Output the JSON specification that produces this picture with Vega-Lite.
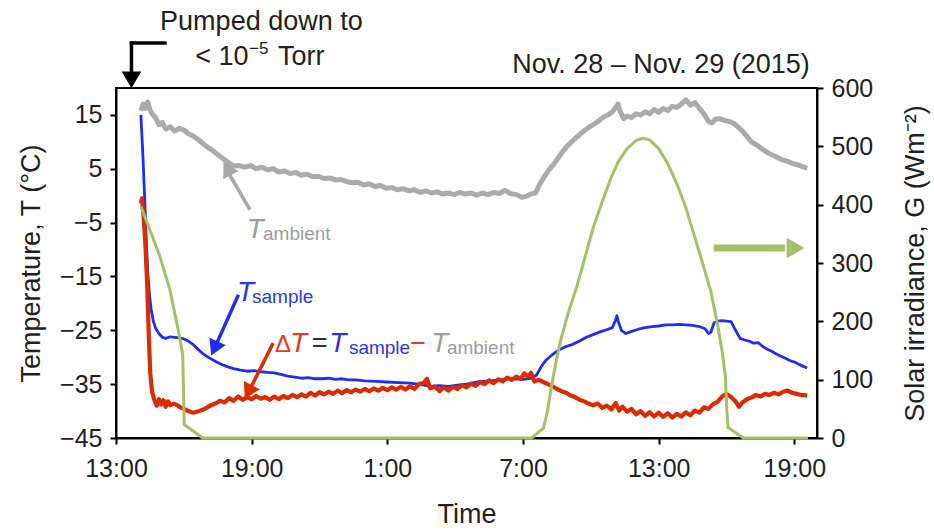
{
"$schema": "https://vega.github.io/schema/vega-lite/v6.json",
"width": 701, "height": 350,
"autosize": "none",
"padding": {"left": 116, "top": 88, "right": 117, "bottom": 93},
"background": "white",
"config": {
  "font": "Liberation Sans",
  "view": {"stroke": "black", "strokeWidth": 2},
  "axis": {"domainColor": "black", "domainWidth": 2, "tickColor": "black", "tickWidth": 2, "tickSize": 6, "labelFontSize": 25, "labelColor": "#231f20", "titleFontSize": 27, "titleFontWeight": "normal", "titleColor": "#231f20", "grid": false, "labelPadding": 8}
},
"datasets": {
  "amb": [
    {"t":"2015-11-28T14:06","v":15.8},{"t":"2015-11-28T14:12","v":17.0},{"t":"2015-11-28T14:18","v":16.2},{"t":"2015-11-28T14:24","v":17.4},{"t":"2015-11-28T14:30","v":16.0},{"t":"2015-11-28T14:36","v":15.2},{"t":"2015-11-28T14:45","v":14.5},{"t":"2015-11-28T14:54","v":13.2},{"t":"2015-11-28T15:03","v":13.6},{"t":"2015-11-28T15:12","v":12.4},{"t":"2015-11-28T15:24","v":12.8},{"t":"2015-11-28T15:36","v":12.0},{"t":"2015-11-28T15:48","v":12.5},{"t":"2015-11-28T16:00","v":12.2},{"t":"2015-11-28T16:12","v":11.5},{"t":"2015-11-28T16:27","v":11.0},{"t":"2015-11-28T16:42","v":10.2},{"t":"2015-11-28T16:57","v":9.3},{"t":"2015-11-28T17:12","v":8.6},{"t":"2015-11-28T17:27","v":7.8},{"t":"2015-11-28T17:42","v":7.0},{"t":"2015-11-28T17:57","v":6.2},{"t":"2015-11-28T18:12","v":5.5},{"t":"2015-11-28T18:27","v":5.6},{"t":"2015-11-28T18:42","v":5.3},{"t":"2015-11-28T18:57","v":5.6},{"t":"2015-11-28T19:12","v":5.0},{"t":"2015-11-28T19:27","v":5.3},{"t":"2015-11-28T19:42","v":4.8},{"t":"2015-11-28T19:57","v":5.0},{"t":"2015-11-28T20:12","v":4.4},{"t":"2015-11-28T20:27","v":4.6},{"t":"2015-11-28T20:42","v":4.1},{"t":"2015-11-28T20:57","v":4.3},{"t":"2015-11-28T21:12","v":3.8},{"t":"2015-11-28T21:27","v":4.0},{"t":"2015-11-28T21:42","v":3.5},{"t":"2015-11-28T21:57","v":3.6},{"t":"2015-11-28T22:12","v":3.2},{"t":"2015-11-28T22:27","v":3.3},{"t":"2015-11-28T22:42","v":2.9},{"t":"2015-11-28T22:57","v":3.0},{"t":"2015-11-28T23:12","v":2.6},{"t":"2015-11-28T23:27","v":2.4},{"t":"2015-11-28T23:42","v":2.5},{"t":"2015-11-28T23:57","v":2.0},
    {"t":"2015-11-29T00:12","v":2.2},{"t":"2015-11-29T00:27","v":1.7},{"t":"2015-11-29T00:42","v":1.9},{"t":"2015-11-29T00:57","v":1.4},{"t":"2015-11-29T01:12","v":1.5},{"t":"2015-11-29T01:27","v":1.1},{"t":"2015-11-29T01:42","v":1.3},{"t":"2015-11-29T01:57","v":0.9},{"t":"2015-11-29T02:12","v":1.1},{"t":"2015-11-29T02:27","v":0.6},{"t":"2015-11-29T02:42","v":0.9},{"t":"2015-11-29T02:57","v":0.5},{"t":"2015-11-29T03:12","v":0.7},{"t":"2015-11-29T03:27","v":0.3},{"t":"2015-11-29T03:42","v":0.5},{"t":"2015-11-29T03:57","v":0.2},{"t":"2015-11-29T04:12","v":0.6},{"t":"2015-11-29T04:27","v":0.3},{"t":"2015-11-29T04:42","v":0.5},{"t":"2015-11-29T04:57","v":0.1},{"t":"2015-11-29T05:12","v":0.5},{"t":"2015-11-29T05:27","v":0.2},{"t":"2015-11-29T05:42","v":0.6},{"t":"2015-11-29T05:57","v":0.4},{"t":"2015-11-29T06:12","v":1.0},{"t":"2015-11-29T06:27","v":0.4},{"t":"2015-11-29T06:42","v":0.2},{"t":"2015-11-29T06:57","v":-0.3},{"t":"2015-11-29T07:09","v":-0.1},{"t":"2015-11-29T07:21","v":0.3},{"t":"2015-11-29T07:33","v":0.5},{"t":"2015-11-29T07:45","v":2.2},{"t":"2015-11-29T07:57","v":3.6},{"t":"2015-11-29T08:09","v":4.8},{"t":"2015-11-29T08:21","v":5.8},{"t":"2015-11-29T08:33","v":7.0},{"t":"2015-11-29T08:45","v":8.2},{"t":"2015-11-29T08:57","v":9.2},{"t":"2015-11-29T09:09","v":10.0},{"t":"2015-11-29T09:21","v":10.8},{"t":"2015-11-29T09:33","v":11.5},{"t":"2015-11-29T09:45","v":12.2},{"t":"2015-11-29T09:57","v":12.8},{"t":"2015-11-29T10:09","v":13.3},{"t":"2015-11-29T10:21","v":13.9},{"t":"2015-11-29T10:33","v":14.6},{"t":"2015-11-29T10:45","v":15.0},{"t":"2015-11-29T10:57","v":15.6},{"t":"2015-11-29T11:06","v":16.4},{"t":"2015-11-29T11:12","v":17.0},{"t":"2015-11-29T11:18","v":15.6},{"t":"2015-11-29T11:27","v":14.3},{"t":"2015-11-29T11:36","v":14.8},{"t":"2015-11-29T11:48","v":14.5},{"t":"2015-11-29T12:00","v":15.2},{"t":"2015-11-29T12:12","v":15.0},{"t":"2015-11-29T12:24","v":15.6},{"t":"2015-11-29T12:36","v":15.2},{"t":"2015-11-29T12:48","v":16.0},{"t":"2015-11-29T13:00","v":15.5},{"t":"2015-11-29T13:12","v":16.2},{"t":"2015-11-29T13:24","v":15.8},{"t":"2015-11-29T13:36","v":16.6},{"t":"2015-11-29T13:48","v":16.4},{"t":"2015-11-29T14:00","v":17.0},{"t":"2015-11-29T14:12","v":17.8},{"t":"2015-11-29T14:24","v":16.8},{"t":"2015-11-29T14:36","v":17.3},{"t":"2015-11-29T14:48","v":16.2},{"t":"2015-11-29T15:00","v":15.2},{"t":"2015-11-29T15:12","v":13.8},{"t":"2015-11-29T15:21","v":13.5},{"t":"2015-11-29T15:30","v":14.2},{"t":"2015-11-29T15:42","v":14.3},{"t":"2015-11-29T15:54","v":14.0},{"t":"2015-11-29T16:06","v":13.8},{"t":"2015-11-29T16:18","v":13.5},{"t":"2015-11-29T16:30","v":12.8},{"t":"2015-11-29T16:42","v":12.0},{"t":"2015-11-29T16:54","v":11.0},{"t":"2015-11-29T17:06","v":10.0},{"t":"2015-11-29T17:18","v":9.5},{"t":"2015-11-29T17:30","v":8.9},{"t":"2015-11-29T17:42","v":8.3},{"t":"2015-11-29T17:54","v":7.8},{"t":"2015-11-29T18:06","v":7.4},{"t":"2015-11-29T18:18","v":7.0},{"t":"2015-11-29T18:30","v":6.6},{"t":"2015-11-29T18:42","v":6.4},{"t":"2015-11-29T18:54","v":6.0},{"t":"2015-11-29T19:06","v":5.8},{"t":"2015-11-29T19:18","v":5.5},{"t":"2015-11-29T19:34","v":5.1}
  ],
  "smp": [
    {"t":"2015-11-28T14:06","v":15.0},{"t":"2015-11-28T14:11","v":8.0},{"t":"2015-11-28T14:15","v":1.4},{"t":"2015-11-28T14:19","v":-6.0},{"t":"2015-11-28T14:24","v":-14.0},{"t":"2015-11-28T14:29","v":-18.5},{"t":"2015-11-28T14:33","v":-21.0},{"t":"2015-11-28T14:39","v":-23.3},{"t":"2015-11-28T14:45","v":-24.6},{"t":"2015-11-28T14:54","v":-25.6},{"t":"2015-11-28T15:03","v":-26.3},{"t":"2015-11-28T15:12","v":-26.5},{"t":"2015-11-28T15:24","v":-26.2},{"t":"2015-11-28T15:36","v":-26.3},{"t":"2015-11-28T15:48","v":-26.4},{"t":"2015-11-28T16:00","v":-26.6},{"t":"2015-11-28T16:12","v":-27.0},{"t":"2015-11-28T16:24","v":-27.6},{"t":"2015-11-28T16:36","v":-28.4},{"t":"2015-11-28T16:48","v":-29.2},{"t":"2015-11-28T17:00","v":-29.8},{"t":"2015-11-28T17:12","v":-30.3},{"t":"2015-11-28T17:27","v":-30.9},{"t":"2015-11-28T17:42","v":-31.4},{"t":"2015-11-28T17:57","v":-31.8},{"t":"2015-11-28T18:12","v":-32.1},{"t":"2015-11-28T18:30","v":-32.4},{"t":"2015-11-28T18:48","v":-32.6},{"t":"2015-11-28T19:06","v":-32.5},{"t":"2015-11-28T19:24","v":-32.7},{"t":"2015-11-28T19:42","v":-32.8},{"t":"2015-11-28T20:00","v":-32.9},{"t":"2015-11-28T20:18","v":-33.2},{"t":"2015-11-28T20:36","v":-33.5},{"t":"2015-11-28T20:54","v":-33.7},{"t":"2015-11-28T21:12","v":-33.9},{"t":"2015-11-28T21:30","v":-33.8},{"t":"2015-11-28T21:48","v":-34.0},{"t":"2015-11-28T22:06","v":-34.0},{"t":"2015-11-28T22:24","v":-33.9},{"t":"2015-11-28T22:42","v":-34.1},{"t":"2015-11-28T23:00","v":-34.0},{"t":"2015-11-28T23:18","v":-34.2},{"t":"2015-11-28T23:36","v":-34.2},
    {"t":"2015-11-29T00:00","v":-34.4},{"t":"2015-11-29T00:30","v":-34.5},{"t":"2015-11-29T01:00","v":-34.6},{"t":"2015-11-29T01:30","v":-34.7},{"t":"2015-11-29T02:00","v":-34.8},{"t":"2015-11-29T02:30","v":-35.1},{"t":"2015-11-29T02:54","v":-35.4},{"t":"2015-11-29T03:18","v":-35.3},{"t":"2015-11-29T03:42","v":-35.4},{"t":"2015-11-29T04:06","v":-35.2},{"t":"2015-11-29T04:30","v":-35.0},{"t":"2015-11-29T05:00","v":-34.6},{"t":"2015-11-29T05:30","v":-34.4},{"t":"2015-11-29T06:00","v":-34.2},{"t":"2015-11-29T06:30","v":-34.0},{"t":"2015-11-29T07:00","v":-34.1},{"t":"2015-11-29T07:24","v":-33.9},{"t":"2015-11-29T07:36","v":-33.3},{"t":"2015-11-29T07:48","v":-31.8},{"t":"2015-11-29T08:00","v":-30.6},{"t":"2015-11-29T08:18","v":-29.5},{"t":"2015-11-29T08:36","v":-28.6},{"t":"2015-11-29T08:54","v":-28.0},{"t":"2015-11-29T09:12","v":-27.6},{"t":"2015-11-29T09:30","v":-27.0},{"t":"2015-11-29T09:48","v":-26.3},{"t":"2015-11-29T10:06","v":-25.8},{"t":"2015-11-29T10:24","v":-25.3},{"t":"2015-11-29T10:42","v":-24.9},{"t":"2015-11-29T10:57","v":-24.5},{"t":"2015-11-29T11:05","v":-23.2},{"t":"2015-11-29T11:09","v":-22.3},{"t":"2015-11-29T11:13","v":-23.4},{"t":"2015-11-29T11:21","v":-25.0},{"t":"2015-11-29T11:33","v":-25.6},{"t":"2015-11-29T11:48","v":-25.2},{"t":"2015-11-29T12:06","v":-24.8},{"t":"2015-11-29T12:24","v":-24.5},{"t":"2015-11-29T12:42","v":-24.3},{"t":"2015-11-29T13:00","v":-24.2},{"t":"2015-11-29T13:18","v":-24.0},{"t":"2015-11-29T13:36","v":-24.0},{"t":"2015-11-29T13:54","v":-23.9},{"t":"2015-11-29T14:12","v":-24.0},{"t":"2015-11-29T14:30","v":-24.1},{"t":"2015-11-29T14:48","v":-24.3},{"t":"2015-11-29T15:03","v":-24.7},{"t":"2015-11-29T15:12","v":-25.6},{"t":"2015-11-29T15:18","v":-25.4},{"t":"2015-11-29T15:27","v":-23.6},{"t":"2015-11-29T15:36","v":-23.3},{"t":"2015-11-29T15:48","v":-23.2},{"t":"2015-11-29T16:00","v":-23.3},{"t":"2015-11-29T16:12","v":-23.4},{"t":"2015-11-29T16:24","v":-25.0},{"t":"2015-11-29T16:36","v":-26.5},{"t":"2015-11-29T16:48","v":-26.8},{"t":"2015-11-29T17:00","v":-27.0},{"t":"2015-11-29T17:12","v":-27.4},{"t":"2015-11-29T17:24","v":-27.3},{"t":"2015-11-29T17:36","v":-28.0},{"t":"2015-11-29T17:48","v":-28.5},{"t":"2015-11-29T18:00","v":-28.9},{"t":"2015-11-29T18:12","v":-29.4},{"t":"2015-11-29T18:24","v":-29.8},{"t":"2015-11-29T18:36","v":-30.2},{"t":"2015-11-29T18:48","v":-30.6},{"t":"2015-11-29T19:00","v":-30.9},{"t":"2015-11-29T19:12","v":-31.3},{"t":"2015-11-29T19:24","v":-31.7},{"t":"2015-11-29T19:34","v":-32.0}
  ],
  "dlt": [
    {"t":"2015-11-28T14:06","v":-1.5},{"t":"2015-11-28T14:09","v":-0.5},{"t":"2015-11-28T14:13","v":-3.5},{"t":"2015-11-28T14:18","v":-9.0},{"t":"2015-11-28T14:23","v":-17.0},{"t":"2015-11-28T14:27","v":-26.0},{"t":"2015-11-28T14:31","v":-33.0},{"t":"2015-11-28T14:36","v":-36.5},{"t":"2015-11-28T14:42","v":-38.0},{"t":"2015-11-28T14:48","v":-39.0},{"t":"2015-11-28T14:54","v":-37.8},{"t":"2015-11-28T15:00","v":-38.8},{"t":"2015-11-28T15:06","v":-38.0},{"t":"2015-11-28T15:12","v":-39.2},{"t":"2015-11-28T15:18","v":-38.2},{"t":"2015-11-28T15:24","v":-38.9},{"t":"2015-11-28T15:33","v":-38.6},{"t":"2015-11-28T15:42","v":-38.9},{"t":"2015-11-28T15:51","v":-39.3},{"t":"2015-11-28T16:00","v":-39.6},{"t":"2015-11-28T16:12","v":-40.0},{"t":"2015-11-28T16:24","v":-40.3},{"t":"2015-11-28T16:36","v":-40.1},{"t":"2015-11-28T16:48","v":-39.8},{"t":"2015-11-28T17:00","v":-39.4},{"t":"2015-11-28T17:12","v":-38.9},{"t":"2015-11-28T17:24","v":-38.6},{"t":"2015-11-28T17:36","v":-38.1},{"t":"2015-11-28T17:48","v":-38.4},{"t":"2015-11-28T18:00","v":-37.6},{"t":"2015-11-28T18:12","v":-38.1},{"t":"2015-11-28T18:24","v":-37.3},{"t":"2015-11-28T18:36","v":-37.9},{"t":"2015-11-28T18:48","v":-37.4},{"t":"2015-11-28T19:00","v":-37.8},{"t":"2015-11-28T19:12","v":-37.2},{"t":"2015-11-28T19:24","v":-37.7},{"t":"2015-11-28T19:36","v":-37.4},{"t":"2015-11-28T19:48","v":-37.9},{"t":"2015-11-28T20:00","v":-37.3},{"t":"2015-11-28T20:12","v":-37.8},{"t":"2015-11-28T20:24","v":-37.2},{"t":"2015-11-28T20:36","v":-37.6},{"t":"2015-11-28T20:48","v":-37.0},{"t":"2015-11-28T21:00","v":-37.4},{"t":"2015-11-28T21:12","v":-36.9},{"t":"2015-11-28T21:24","v":-37.3},{"t":"2015-11-28T21:36","v":-36.6},{"t":"2015-11-28T21:48","v":-37.1},{"t":"2015-11-28T22:00","v":-36.5},{"t":"2015-11-28T22:12","v":-36.9},{"t":"2015-11-28T22:24","v":-36.4},{"t":"2015-11-28T22:36","v":-36.8},{"t":"2015-11-28T22:48","v":-36.2},{"t":"2015-11-28T23:00","v":-36.7},{"t":"2015-11-28T23:12","v":-36.1},{"t":"2015-11-28T23:24","v":-36.5},{"t":"2015-11-28T23:36","v":-36.0},{"t":"2015-11-28T23:48","v":-36.4},
    {"t":"2015-11-29T00:00","v":-35.9},{"t":"2015-11-29T00:12","v":-36.3},{"t":"2015-11-29T00:24","v":-35.8},{"t":"2015-11-29T00:36","v":-36.2},{"t":"2015-11-29T00:48","v":-35.7},{"t":"2015-11-29T01:00","v":-36.1},{"t":"2015-11-29T01:12","v":-35.6},{"t":"2015-11-29T01:24","v":-36.0},{"t":"2015-11-29T01:36","v":-35.5},{"t":"2015-11-29T01:48","v":-36.0},{"t":"2015-11-29T02:00","v":-35.4},{"t":"2015-11-29T02:12","v":-35.9},{"t":"2015-11-29T02:24","v":-35.0},{"t":"2015-11-29T02:36","v":-34.8},{"t":"2015-11-29T02:45","v":-34.0},{"t":"2015-11-29T02:54","v":-35.8},{"t":"2015-11-29T03:06","v":-35.4},{"t":"2015-11-29T03:18","v":-36.3},{"t":"2015-11-29T03:30","v":-35.6},{"t":"2015-11-29T03:42","v":-36.2},{"t":"2015-11-29T03:54","v":-35.5},{"t":"2015-11-29T04:06","v":-35.9},{"t":"2015-11-29T04:18","v":-35.2},{"t":"2015-11-29T04:30","v":-35.6},{"t":"2015-11-29T04:42","v":-34.9},{"t":"2015-11-29T04:54","v":-35.3},{"t":"2015-11-29T05:06","v":-34.6},{"t":"2015-11-29T05:18","v":-35.0},{"t":"2015-11-29T05:30","v":-34.3},{"t":"2015-11-29T05:42","v":-34.8},{"t":"2015-11-29T05:54","v":-34.1},{"t":"2015-11-29T06:06","v":-34.5},{"t":"2015-11-29T06:18","v":-33.8},{"t":"2015-11-29T06:30","v":-34.2},{"t":"2015-11-29T06:42","v":-33.6},{"t":"2015-11-29T06:54","v":-34.0},{"t":"2015-11-29T07:03","v":-33.0},{"t":"2015-11-29T07:12","v":-33.6},{"t":"2015-11-29T07:21","v":-32.9},{"t":"2015-11-29T07:30","v":-34.5},{"t":"2015-11-29T07:42","v":-34.2},{"t":"2015-11-29T07:54","v":-34.6},{"t":"2015-11-29T08:06","v":-35.0},{"t":"2015-11-29T08:18","v":-35.4},{"t":"2015-11-29T08:30","v":-35.9},{"t":"2015-11-29T08:42","v":-36.3},{"t":"2015-11-29T08:54","v":-36.6},{"t":"2015-11-29T09:06","v":-37.1},{"t":"2015-11-29T09:18","v":-37.4},{"t":"2015-11-29T09:30","v":-37.9},{"t":"2015-11-29T09:42","v":-38.2},{"t":"2015-11-29T09:54","v":-38.6},{"t":"2015-11-29T10:06","v":-38.9},{"t":"2015-11-29T10:18","v":-38.6},{"t":"2015-11-29T10:30","v":-39.4},{"t":"2015-11-29T10:42","v":-39.0},{"t":"2015-11-29T10:54","v":-39.7},{"t":"2015-11-29T11:06","v":-38.5},{"t":"2015-11-29T11:15","v":-39.9},{"t":"2015-11-29T11:24","v":-39.2},{"t":"2015-11-29T11:36","v":-40.1},{"t":"2015-11-29T11:48","v":-39.6},{"t":"2015-11-29T12:00","v":-40.6},{"t":"2015-11-29T12:12","v":-40.0},{"t":"2015-11-29T12:24","v":-40.9},{"t":"2015-11-29T12:36","v":-40.2},{"t":"2015-11-29T12:48","v":-41.0},{"t":"2015-11-29T13:00","v":-40.3},{"t":"2015-11-29T13:12","v":-41.1},{"t":"2015-11-29T13:24","v":-40.4},{"t":"2015-11-29T13:36","v":-41.2},{"t":"2015-11-29T13:48","v":-40.5},{"t":"2015-11-29T14:00","v":-41.0},{"t":"2015-11-29T14:12","v":-40.2},{"t":"2015-11-29T14:24","v":-40.8},{"t":"2015-11-29T14:36","v":-39.9},{"t":"2015-11-29T14:48","v":-40.3},{"t":"2015-11-29T15:00","v":-39.3},{"t":"2015-11-29T15:12","v":-39.6},{"t":"2015-11-29T15:24","v":-38.7},{"t":"2015-11-29T15:36","v":-38.3},{"t":"2015-11-29T15:48","v":-37.3},{"t":"2015-11-29T16:00","v":-36.8},{"t":"2015-11-29T16:12","v":-37.4},{"t":"2015-11-29T16:24","v":-38.2},{"t":"2015-11-29T16:33","v":-39.2},{"t":"2015-11-29T16:42","v":-38.4},{"t":"2015-11-29T16:54","v":-37.8},{"t":"2015-11-29T17:06","v":-37.5},{"t":"2015-11-29T17:18","v":-37.0},{"t":"2015-11-29T17:30","v":-37.3},{"t":"2015-11-29T17:42","v":-36.8},{"t":"2015-11-29T17:54","v":-37.0},{"t":"2015-11-29T18:06","v":-36.6},{"t":"2015-11-29T18:18","v":-36.9},{"t":"2015-11-29T18:30","v":-36.4},{"t":"2015-11-29T18:42","v":-36.2},{"t":"2015-11-29T18:54","v":-36.6},{"t":"2015-11-29T19:06","v":-36.8},{"t":"2015-11-29T19:18","v":-37.0},{"t":"2015-11-29T19:34","v":-37.1}
  ],
  "sun": [
    {"t":"2015-11-28T14:06","g":397},{"t":"2015-11-28T14:28","g":360},{"t":"2015-11-28T14:55","g":314},{"t":"2015-11-28T15:22","g":257},{"t":"2015-11-28T15:44","g":189},{"t":"2015-11-28T15:57","g":143},{"t":"2015-11-28T16:01","g":23},{"t":"2015-11-28T16:50","g":0},
    {"t":"2015-11-29T07:23","g":0},{"t":"2015-11-29T07:54","g":17},{"t":"2015-11-29T08:03","g":40},{"t":"2015-11-29T08:12","g":75},{"t":"2015-11-29T08:21","g":108},{"t":"2015-11-29T08:30","g":138},{"t":"2015-11-29T08:39","g":165},{"t":"2015-11-29T09:00","g":215},{"t":"2015-11-29T09:24","g":262},{"t":"2015-11-29T09:48","g":318},{"t":"2015-11-29T10:06","g":360},{"t":"2015-11-29T10:30","g":405},{"t":"2015-11-29T10:51","g":442},{"t":"2015-11-29T11:12","g":473},{"t":"2015-11-29T11:36","g":496},{"t":"2015-11-29T12:00","g":510},{"t":"2015-11-29T12:18","g":514},{"t":"2015-11-29T12:36","g":511},{"t":"2015-11-29T13:00","g":496},{"t":"2015-11-29T13:24","g":470},{"t":"2015-11-29T13:48","g":436},{"t":"2015-11-29T14:12","g":395},{"t":"2015-11-29T14:33","g":350},{"t":"2015-11-29T14:54","g":305},{"t":"2015-11-29T15:18","g":252},{"t":"2015-11-29T15:36","g":195},{"t":"2015-11-29T15:48","g":150},{"t":"2015-11-29T15:57","g":105},{"t":"2015-11-29T16:01","g":45},{"t":"2015-11-29T16:04","g":18},{"t":"2015-11-29T16:45","g":0},{"t":"2015-11-29T19:36","g":0}
  ],
  "arrows": [
    {"a":"pump","t":"2015-11-28T13:41","v":28.35,"t2":"2015-11-28T15:10","v2":28.35},
    {"a":"pump","t":"2015-11-28T13:41","v":28.35,"t2":"2015-11-28T13:41","v2":22.9},
    {"a":"ambient","t":"2015-11-28T18:53","v":-2.29,"t2":"2015-11-28T18:02","v2":3.84},
    {"a":"sample","t":"2015-11-28T18:23","v":-18.69,"t2":"2015-11-28T17:27","v2":-27.45},
    {"a":"delta","t":"2015-11-28T19:55","v":-27.67,"t2":"2015-11-28T18:58","v2":-35.58},
    {"a":"sun","t":"2015-11-29T15:26","v":-9.72,"t2":"2015-11-29T18:35","v2":-9.72}
  ],
  "heads": [
    {"a":"pump","t":"2015-11-28T13:41","v":21.5},
    {"a":"ambient","t":"2015-11-28T17:55","v":5.03},
    {"a":"sample","t":"2015-11-28T17:21","v":-28.36},
    {"a":"delta","t":"2015-11-28T18:51","v":-36.46},
    {"a":"sun","t":"2015-11-29T19:03","v":-9.72}
  ],
  "txt": [
    {"g":"head","t":"2015-11-28T14:57","v":30.77,"text":"Pumped down to"},
    {"g":"head","t":"2015-11-28T16:30","v":24.3,"text":"< 10"},
    {"g":"sup","t":"2015-11-28T18:53","v":26.4,"text":"−5"},
    {"g":"head","t":"2015-11-28T20:10","v":24.3,"text":"Torr"},
    {"g":"headR","t":"2015-11-29T19:41","v":22.78,"text":"Nov. 28 – Nov. 29 (2015)"},
    {"g":"Tgray","t":"2015-11-28T18:47","v":-7.86,"text":"T"},
    {"g":"subgray","t":"2015-11-28T19:30","v":-8.23,"text":"ambient"},
    {"g":"Tblue","t":"2015-11-28T18:21","v":-19.56,"text":"T"},
    {"g":"subblue","t":"2015-11-28T19:01","v":-19.93,"text":"sample"},
    {"g":"delta","t":"2015-11-28T20:02","v":-29.03,"text":"Δ"},
    {"g":"Tred","t":"2015-11-28T20:42","v":-29.03,"text":"T"},
    {"g":"eq","t":"2015-11-28T22:00","v":-29.03,"text":"="},
    {"g":"Tblue","t":"2015-11-28T22:26","v":-29.03,"text":"T"},
    {"g":"subblue","t":"2015-11-28T23:18","v":-29.4,"text":"sample"},
    {"g":"minus","t":"2015-11-29T02:22","v":-29.03,"text":"−"},
    {"g":"Tgray","t":"2015-11-29T02:56","v":-29.03,"text":"T"},
    {"g":"subgray","t":"2015-11-29T03:38","v":-29.4,"text":"ambient"}
  ]
},
"encoding": {
  "x": {"field": "t", "type": "temporal",
    "scale": {"domain": [{"year": 2015, "month": 11, "date": 28, "hours": 13}, {"year": 2015, "month": 11, "date": 29, "hours": 20}]},
    "axis": {"title": "Time", "format": "%-H:%M", "labelFlush": false, "labelPadding": 12, "titlePadding": 20,
      "values": [{"year": 2015, "month": 11, "date": 28, "hours": 13}, {"year": 2015, "month": 11, "date": 28, "hours": 19}, {"year": 2015, "month": 11, "date": 29, "hours": 1}, {"year": 2015, "month": 11, "date": 29, "hours": 7}, {"year": 2015, "month": 11, "date": 29, "hours": 13}, {"year": 2015, "month": 11, "date": 29, "hours": 19}]}}
},
"layer": [
  {
    "encoding": {
      "y": {"field": "v", "type": "quantitative", "scale": {"domain": [-45, 20], "nice": false, "zero": false},
        "axis": {"orient": "left", "title": "Temperature, T (°C)", "values": [15, 5, -5, -15, -25, -35, -45], "titlePadding": 14}}
    },
    "layer": [
      {"data": {"name": "amb", "format": {"parse": {"t": "date"}}}, "mark": {"type": "line", "color": "#ababab", "strokeWidth": 5, "strokeJoin": "round"}},
      {"data": {"name": "smp", "format": {"parse": {"t": "date"}}}, "mark": {"type": "line", "color": "#1f2ef2", "strokeWidth": 2.8, "strokeJoin": "round"}},
      {"data": {"name": "dlt", "format": {"parse": {"t": "date"}}}, "mark": {"type": "line", "color": "#de2a00", "strokeWidth": 4.2, "strokeJoin": "round"}},
      {"data": {"name": "arrows", "format": {"parse": {"t": "date", "t2": "date"}}},
        "transform": [{"filter": "datum.a !== 'sun'"}],
        "mark": {"type": "rule", "strokeWidth": 3.5, "strokeCap": "square"},
        "encoding": {"x2": {"field": "t2"}, "y2": {"field": "v2"},
          "color": {"field": "a", "type": "nominal", "legend": null, "scale": {"domain": ["pump", "ambient", "sample", "delta", "sun"], "range": ["#000000", "#a8a8a8", "#1f2ef2", "#de2a00", "#a6c068"]}}}},
      {"data": {"name": "arrows", "format": {"parse": {"t": "date", "t2": "date"}}},
        "transform": [{"filter": "datum.a === 'sun'"}],
        "mark": {"type": "rule", "strokeWidth": 7, "color": "#a6c068"},
        "encoding": {"x2": {"field": "t2"}, "y2": {"field": "v2"}}},
      {"data": {"name": "heads", "format": {"parse": {"t": "date"}}}, "transform": [{"filter": "datum.a === 'pump'"}],
        "mark": {"type": "point", "shape": "triangle-up", "angle": 180, "filled": true, "opacity": 1, "color": "#000000", "size": 380}},
      {"data": {"name": "heads", "format": {"parse": {"t": "date"}}}, "transform": [{"filter": "datum.a === 'ambient'"}],
        "mark": {"type": "point", "shape": "triangle-up", "angle": 331, "filled": true, "opacity": 1, "color": "#a8a8a8", "size": 300}},
      {"data": {"name": "heads", "format": {"parse": {"t": "date"}}}, "transform": [{"filter": "datum.a === 'sample'"}],
        "mark": {"type": "point", "shape": "triangle-up", "angle": 204, "filled": true, "opacity": 1, "color": "#1f2ef2", "size": 320}},
      {"data": {"name": "heads", "format": {"parse": {"t": "date"}}}, "transform": [{"filter": "datum.a === 'delta'"}],
        "mark": {"type": "point", "shape": "triangle-up", "angle": 207, "filled": true, "opacity": 1, "color": "#de2a00", "size": 320}},
      {"data": {"name": "heads", "format": {"parse": {"t": "date"}}}, "transform": [{"filter": "datum.a === 'sun'"}],
        "mark": {"type": "point", "shape": "triangle-up", "angle": 90, "filled": true, "opacity": 1, "color": "#a6c068", "size": 420}},
      {"data": {"name": "txt", "format": {"parse": {"t": "date"}}}, "transform": [{"filter": "datum.g === 'head'"}],
        "mark": {"type": "text", "align": "left", "baseline": "alphabetic", "fontSize": 27, "color": "#231f20"}, "encoding": {"text": {"field": "text"}}},
      {"data": {"name": "txt", "format": {"parse": {"t": "date"}}}, "transform": [{"filter": "datum.g === 'headR'"}],
        "mark": {"type": "text", "align": "right", "baseline": "alphabetic", "fontSize": 27, "color": "#231f20"}, "encoding": {"text": {"field": "text"}}},
      {"data": {"name": "txt", "format": {"parse": {"t": "date"}}}, "transform": [{"filter": "datum.g === 'sup'"}],
        "mark": {"type": "text", "align": "left", "baseline": "alphabetic", "fontSize": 17, "color": "#231f20"}, "encoding": {"text": {"field": "text"}}},
      {"data": {"name": "txt", "format": {"parse": {"t": "date"}}}, "transform": [{"filter": "datum.g === 'Tgray'"}],
        "mark": {"type": "text", "align": "left", "baseline": "alphabetic", "fontSize": 28, "fontStyle": "italic", "color": "#9d9d9d"}, "encoding": {"text": {"field": "text"}}},
      {"data": {"name": "txt", "format": {"parse": {"t": "date"}}}, "transform": [{"filter": "datum.g === 'Tblue'"}],
        "mark": {"type": "text", "align": "left", "baseline": "alphabetic", "fontSize": 28, "fontStyle": "italic", "color": "#2a36ee"}, "encoding": {"text": {"field": "text"}}},
      {"data": {"name": "txt", "format": {"parse": {"t": "date"}}}, "transform": [{"filter": "datum.g === 'Tred'"}],
        "mark": {"type": "text", "align": "left", "baseline": "alphabetic", "fontSize": 28, "fontStyle": "italic", "color": "#e03a2c"}, "encoding": {"text": {"field": "text"}}},
      {"data": {"name": "txt", "format": {"parse": {"t": "date"}}}, "transform": [{"filter": "datum.g === 'subgray'"}],
        "mark": {"type": "text", "align": "left", "baseline": "alphabetic", "fontSize": 19, "color": "#9d9d9d"}, "encoding": {"text": {"field": "text"}}},
      {"data": {"name": "txt", "format": {"parse": {"t": "date"}}}, "transform": [{"filter": "datum.g === 'subblue'"}],
        "mark": {"type": "text", "align": "left", "baseline": "alphabetic", "fontSize": 19, "color": "#2a36ee"}, "encoding": {"text": {"field": "text"}}},
      {"data": {"name": "txt", "format": {"parse": {"t": "date"}}}, "transform": [{"filter": "datum.g === 'delta'"}],
        "mark": {"type": "text", "align": "left", "baseline": "alphabetic", "fontSize": 24, "color": "#e03a2c"}, "encoding": {"text": {"field": "text"}}},
      {"data": {"name": "txt", "format": {"parse": {"t": "date"}}}, "transform": [{"filter": "datum.g === 'minus'"}],
        "mark": {"type": "text", "align": "center", "baseline": "alphabetic", "fontSize": 27, "color": "#e03a2c"}, "encoding": {"text": {"field": "text"}}},
      {"data": {"name": "txt", "format": {"parse": {"t": "date"}}}, "transform": [{"filter": "datum.g === 'eq'"}],
        "mark": {"type": "text", "align": "center", "baseline": "alphabetic", "fontSize": 27, "color": "#333333"}, "encoding": {"text": {"field": "text"}}}
    ]
  },
  {
    "data": {"name": "sun", "format": {"parse": {"t": "date"}}},
    "mark": {"type": "line", "color": "#a6c068", "strokeWidth": 3, "strokeJoin": "round"},
    "encoding": {
      "y": {"field": "g", "type": "quantitative", "scale": {"domain": [0, 600], "nice": false},
        "axis": {"orient": "right", "title": "Solar irradiance, G (Wm⁻²)", "values": [0, 100, 200, 300, 400, 500, 600], "titleAngle": 270, "titleBaseline": "top", "titlePadding": 30}}
    }
  }
],
"resolve": {"scale": {"y": "independent"}}
}
